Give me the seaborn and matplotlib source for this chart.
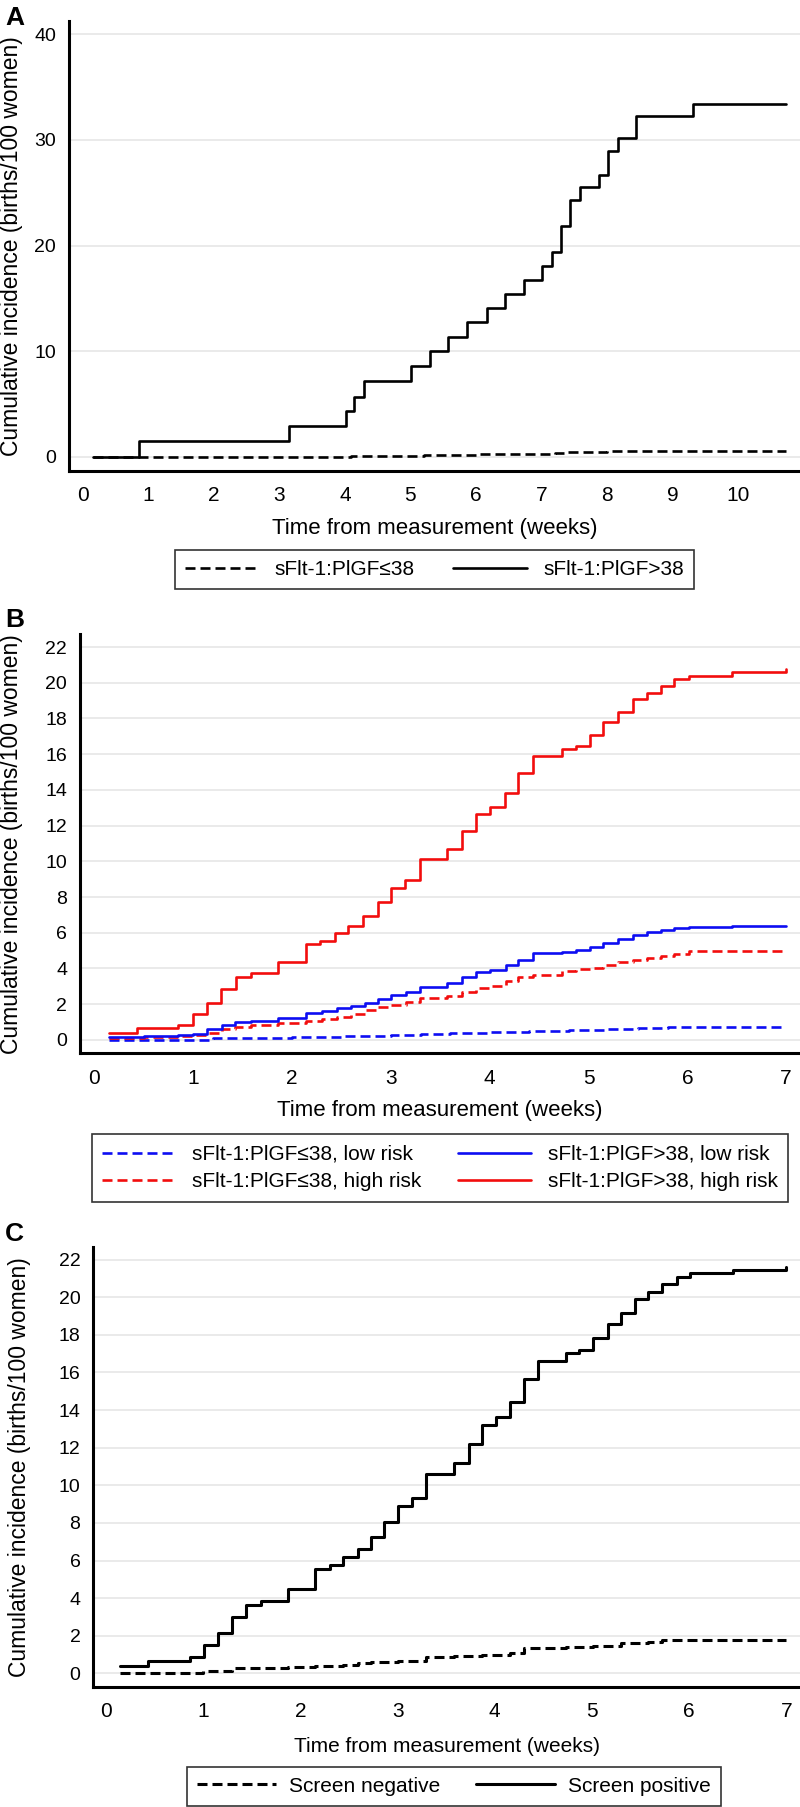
import numpy as np
import pandas as pd
import matplotlib
matplotlib.use("Agg")
import matplotlib.pyplot as plt
import seaborn as sns

# ---------------- Data ----------------
# Panel A
a_hi_t = [0.16, 0.86, 3.15, 4.02, 4.14, 4.29, 5.01, 5.30, 5.58, 5.87, 6.16, 6.44, 6.73, 7.01,
          7.16, 7.30, 7.44, 7.59, 7.87, 8.02, 8.16, 8.44, 9.31, 10.72]
a_hi_v = [0, 1.5, 2.96, 4.35, 5.7, 7.2, 8.6, 10.0, 11.35, 12.74, 14.13, 15.45, 16.75, 18.1,
          19.36, 21.9, 24.3, 25.5, 26.7, 28.95, 30.15, 32.3, 33.4, 33.4]
a_lo_t = [0.16, 4.1, 5.2, 6.0, 7.2, 7.4, 8.0, 9.3, 10.72]
a_lo_v = [0, 0.1, 0.15, 0.25, 0.35, 0.5, 0.52, 0.55, 0.55]
a_labels = ["sFlt-1:PlGF\u226438", "sFlt-1:PlGF>38"]

# Panel B
b_red_hi_t = [0.145, 0.43, 0.85, 1.0, 1.14, 1.28, 1.43, 1.58, 1.86, 2.14, 2.28, 2.43, 2.57, 2.72,
              2.87, 3.0, 3.14, 3.29, 3.57, 3.72, 3.86, 4.0, 4.15, 4.29, 4.44, 4.73, 4.87, 5.01,
              5.15, 5.30, 5.45, 5.59, 5.73, 5.87, 6.02, 6.45, 7.0]
b_red_hi_v = [0.41, 0.65, 0.84, 1.46, 2.05, 2.87, 3.51, 3.73, 4.35, 5.37, 5.56, 5.97, 6.38, 6.94,
              7.74, 8.53, 8.96, 10.12, 10.68, 11.7, 12.65, 13.06, 13.81, 14.97, 15.9, 16.28, 16.48,
              17.06, 17.8, 18.36, 19.08, 19.45, 19.84, 20.21, 20.4, 20.59, 20.75]
b_grid_t = [0.145, 0.5, 0.85, 1.0, 1.14, 1.29, 1.42, 1.58, 1.86, 2.14, 2.3, 2.45, 2.6, 2.74, 2.87,
            3.0, 3.15, 3.29, 3.57, 3.72, 3.86, 4.0, 4.16, 4.29, 4.44, 4.73, 4.87, 5.01, 5.15, 5.3,
            5.45, 5.59, 5.73, 5.87, 6.02, 6.45, 7.0]
b_blue_hi_v = [0.15, 0.2, 0.25, 0.34, 0.6, 0.84, 0.99, 1.08, 1.21, 1.53, 1.64, 1.77, 1.9, 2.08, 2.27,
               2.5, 2.67, 2.97, 3.2, 3.5, 3.81, 3.94, 4.17, 4.5, 4.84, 4.94, 5.03, 5.22, 5.44, 5.65,
               5.89, 6.04, 6.15, 6.27, 6.35, 6.4, 6.4]
b_red_lo_v = [0.13, 0.15, 0.2, 0.25, 0.4, 0.6, 0.75, 0.85, 0.95, 1.05, 1.15, 1.3, 1.45, 1.65, 1.85,
              1.95, 2.1, 2.35, 2.45, 2.7, 2.9, 3.0, 3.3, 3.5, 3.65, 3.85, 3.95, 4.05, 4.2, 4.35,
              4.5, 4.6, 4.7, 4.8, 4.98, 5.0, 5.0]
b_blue_lo_t = [0.145, 1.0, 1.2, 1.6, 2.0, 2.5, 3.0, 3.3, 3.6, 4.0, 4.4, 4.8, 5.2, 5.5, 5.8, 6.0, 7.0]
b_blue_lo_v = [0.0, 0.02, 0.1, 0.12, 0.15, 0.2, 0.25, 0.35, 0.38, 0.45, 0.52, 0.58, 0.62, 0.68,
               0.72, 0.75, 0.75]
b_labels = ["sFlt-1:PlGF\u226438, low risk", "sFlt-1:PlGF\u226438, high risk",
            "sFlt-1:PlGF>38, low risk", "sFlt-1:PlGF>38, high risk"]

# Panel C
c_pos_t = [0.14, 0.43, 0.86, 1.01, 1.15, 1.30, 1.44, 1.59, 1.87, 2.15, 2.30, 2.44, 2.59, 2.73, 2.86,
           3.0, 3.15, 3.29, 3.58, 3.73, 3.87, 4.01, 4.16, 4.30, 4.44, 4.73, 4.87, 5.01, 5.16, 5.30,
           5.44, 5.58, 5.72, 5.87, 6.01, 6.45, 7.0]
c_pos_v = [0.41, 0.65, 0.88, 1.5, 2.16, 3.01, 3.63, 3.85, 4.47, 5.53, 5.76, 6.2, 6.61, 7.23, 8.07,
           8.9, 9.34, 10.58, 11.17, 12.2, 13.2, 13.65, 14.45, 15.64, 16.63, 17.02, 17.2, 17.85,
           18.58, 19.15, 19.91, 20.3, 20.69, 21.06, 21.28, 21.45, 21.6]
c_neg_t = [0.14, 1.0, 1.15, 1.3, 1.59, 1.87, 2.15, 2.44, 2.59, 2.73, 3.0, 3.29, 3.58, 3.87, 4.16,
           4.3, 4.44, 4.73, 5.01, 5.3, 5.58, 5.72, 6.01, 7.0]
c_neg_v = [0.0, 0.1, 0.15, 0.27, 0.3, 0.35, 0.4, 0.45, 0.55, 0.6, 0.65, 0.85, 0.9, 1.0, 1.1,
           1.33, 1.35, 1.4, 1.45, 1.6, 1.65, 1.77, 1.8, 1.8]
c_labels = ["Screen negative", "Screen positive"]

xlabel = "Time from measurement (weeks)"
ylabel = "Cumulative incidence (births/100 women)"

# ---------------- Style ----------------
sns.set_style("white")
plt.rcParams['font.family'] = ['Liberation Sans', 'DejaVu Sans']

RED = "#f20d0d"
BLUE = "#0d0df2"

W, H = 800, 1807
fig = plt.figure(figsize=(W / 100, H / 100), dpi=100)


def rect(l, t, r, b):
    return [l / W, 1 - b / H, (r - l) / W, (b - t) / H]


def step(ax, t, v, color, dashed, label, lw):
    df = pd.DataFrame({"t": t, "v": v})
    if dashed:
        ls = (0, (10 * 0.72 / lw, 5 * 0.72 / lw))
    else:
        ls = "-"
    sns.lineplot(data=df, x="t", y="v", ax=ax, color=color, linestyle=ls, linewidth=lw,
                 drawstyle="steps-post", label=label, legend=False, estimator=None)


def style(ax, xlim, ylim, xticks, yticks, xl_y, yl_x, xl_size, xpad, ypad):
    ax.set_xlim(*xlim)
    ax.set_ylim(*ylim)
    ax.set_xticks(xticks)
    ax.set_yticks(yticks)
    for s in ["top", "right"]:
        ax.spines[s].set_visible(False)
    for s in ["left", "bottom"]:
        ax.spines[s].set_linewidth(2.2)
        ax.spines[s].set_color("black")
        ax.spines[s].set_capstyle("projecting")
    ax.tick_params(axis="both", direction="out", length=6, width=1.8, color="black",
                   labelcolor="black")
    ax.tick_params(axis="x", pad=xpad, labelsize=15)
    ax.tick_params(axis="y", pad=ypad, labelsize=14)
    ax.grid(axis="y", color="#e4e4e4", linewidth=1.1)
    ax.grid(axis="x", visible=False)
    ax.set_axisbelow(True)
    ax.set_xlabel(xlabel, fontsize=xl_size, color="black")
    ax.set_ylabel(ylabel, fontsize=16.5, color="black")
    ax.xaxis.set_label_coords(0.5, xl_y)
    ax.yaxis.set_label_coords(yl_x, 0.5)


# ---------------- Panel A ----------------
axA = fig.add_axes(rect(69.4, 21, 800, 470.7))
step(axA, a_lo_t, a_lo_v, "black", True, a_labels[0], 1.9)
step(axA, a_hi_t, a_hi_v, "black", False, a_labels[1], 1.9)
style(axA, (-0.2, 10.94), (-1.3, 41.25), range(0, 11), range(0, 41, 10),
      -0.1052, -0.0635, 16, 5.0, 3.5)

# ---------------- Panel B ----------------
axB = fig.add_axes(rect(80, 634, 800, 1053.3))
step(axB, b_blue_lo_t, b_blue_lo_v, BLUE, True, b_labels[0], 1.9)
step(axB, b_grid_t, b_red_lo_v, RED, True, b_labels[1], 1.9)
step(axB, b_grid_t, b_blue_hi_v, BLUE, False, b_labels[2], 1.9)
step(axB, b_red_hi_t, b_red_hi_v, RED, False, b_labels[3], 1.9)
style(axB, (-0.146, 7.14), (-0.75, 22.73), range(0, 8), range(0, 23, 2),
      -0.1114, -0.0792, 16, 5.5, 3.2)

# ---------------- Panel C ----------------
axC = fig.add_axes(rect(93, 1246.7, 800, 1686.7))
step(axC, c_neg_t, c_neg_v, "black", True, c_labels[0], 2.2)
step(axC, c_pos_t, c_pos_v, "black", False, c_labels[1], 2.2)
style(axC, (-0.134, 7.14), (-0.71, 22.69), range(0, 8), range(0, 23, 2),
      -0.1136, -0.0883, 15, 5.0, 3.0)

# ---------------- Legends ----------------
def legend(ax, cx, cy, hl, htp, cs, bp, ls):
    handles, labels = ax.get_legend_handles_labels()
    leg = fig.legend(handles, labels, loc="center", bbox_to_anchor=(cx / W, 1 - cy / H),
                     ncol=2, fontsize=15, frameon=True, fancybox=False, edgecolor="black",
                     handlelength=hl, handletextpad=htp, columnspacing=cs, borderpad=bp,
                     labelspacing=ls, borderaxespad=0)
    leg.get_frame().set_linewidth(1.2)
    for txt in leg.get_texts():
        txt.set_color("black")
    return leg


legend(axA, 434.5, 569.5, 3.55, 0.75, 1.85, 0.48, 0.3)
legend(axB, 440, 1168, 3.5, 0.8, 1.8, 0.5, 0.4)
legend(axC, 454, 1786, 3.8, 0.62, 1.73, 0.48, 0.3)

# ---------------- Panel letters ----------------
for letter, yb in [("A", 25), ("B", 627), ("C", 1241)]:
    fig.text(5 / W, 1 - yb / H, letter, fontsize=19, fontweight="bold", va="baseline",
             ha="left", color="black")

fig.savefig("out.png", dpi=100, facecolor="white")
